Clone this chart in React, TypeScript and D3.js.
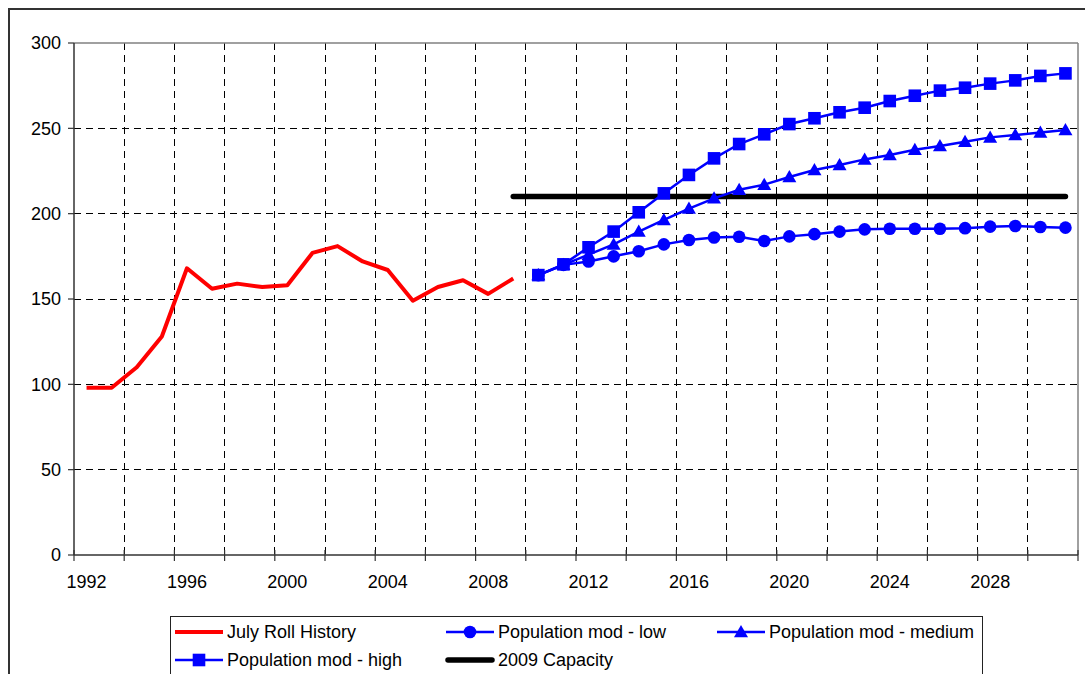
import React from "react";
import * as d3 from "d3";

const categories: number[] = d3.range(1992, 2032);
const histYears: number[] = d3.range(1992, 2010);
const histValues: number[] = [98, 98, 110, 128, 168, 156, 159, 157, 158, 177, 181, 172, 167, 149, 157, 161, 153, 162];
const projYears: number[] = d3.range(2010, 2032);
const lowValues: number[] = [164, 170, 172, 175, 178, 182, 184.6, 186, 186.5, 184, 186.7, 188, 189.5, 190.8, 191.2, 191.2, 191.2, 191.5, 192.4, 192.8, 192.2, 191.8];
const mediumValues: number[] = [164, 170, 176, 182, 189.5, 196.3, 203, 209, 214, 217, 221.5, 225.6, 228.5, 231.8, 234.4, 237.5, 239.6, 242.2, 244.7, 246.1, 247.5, 249];
const highValues: number[] = [164, 170.3, 180.3, 189.5, 200.8, 211.9, 222.7, 232.4, 240.8, 246.5, 252.5, 255.9, 259.4, 262.1, 266, 269.1, 272.1, 273.8, 276.2, 278.1, 280.7, 282.2];
const capacityYears: number[] = d3.range(2009, 2032);
const capacityValue = 210;
const yTicks: number[] = [0, 50, 100, 150, 200, 250, 300];
const xLabelYears: number[] = [1992, 1996, 2000, 2004, 2008, 2012, 2016, 2020, 2024, 2028];
const legendLabels: string[] = ["July Roll History", "Population mod - low", "Population mod - medium", "Population mod - high", "2009 Capacity"];

const FONT = "'Liberation Sans', Arial, sans-serif";
const RED = "#ff0000";
const BLUE = "#0000ff";

const L = 74, R = 1078, T = 43, B = 555;

function Marker({ kind, x, y }: { kind: string; x: number; y: number }) {
  if (kind === "circle") return <circle cx={x} cy={y} r={6.3} fill={BLUE} />;
  if (kind === "square") return <rect x={x - 6.3} y={y - 6.3} width={12.6} height={12.6} fill={BLUE} />;
  const s = 7;
  return <path d={`M${x},${y - s}L${x + s},${y + s * 0.75}L${x - s},${y + s * 0.75}Z`} fill={BLUE} />;
}

export default function App() {
  const x = d3.scaleBand<number>().domain(categories).range([L, R]).padding(0);
  const bw = x.bandwidth();
  const cx = (yr: number) => (x(yr) as number) + bw / 2;
  const y = d3.scaleLinear().domain([0, 300]).range([B, T]);

  const lineGen = (years: number[], vals: number[]) =>
    d3.line<number>().x((_, i) => cx(years[i])).y((v) => y(v))(vals) || "";

  const boundaries = d3.range(0, categories.length + 1, 2).map((k) => L + k * bw);

  const projSeries = [
    { vals: lowValues, kind: "circle" },
    { vals: mediumValues, kind: "triangle" },
    { vals: highValues, kind: "square" },
  ];

  const legendCols = [175, 446, 717];
  const legendRows = [632, 660];
  const legendItems = [
    { label: legendLabels[0], col: 0, row: 0, type: "red" },
    { label: legendLabels[1], col: 1, row: 0, type: "circle" },
    { label: legendLabels[2], col: 2, row: 0, type: "triangle" },
    { label: legendLabels[3], col: 0, row: 1, type: "square" },
    { label: legendLabels[4], col: 1, row: 1, type: "black" },
  ];

  return (
    <div style={{ position: "fixed", left: 0, top: 0, width: 1085, height: 674, background: "#fff" }}>
      <svg width={1085} height={674} style={{ display: "block" }} fontFamily={FONT}>
        <rect x={0} y={0} width={1085} height={674} fill="#fff" />
        <rect x={9} y={9} width={1200} height={800} fill="none" stroke="#333" strokeWidth={2} />

        {/* grid */}
        <g stroke="#000" strokeWidth={1} strokeDasharray="7,5" shapeRendering="crispEdges">
          {yTicks.filter((t) => t > 0 && t < 300).map((t) => (
            <line key={"h" + t} x1={L} x2={R} y1={y(t)} y2={y(t)} />
          ))}
          {boundaries.slice(1, -1).map((bx, i) => (
            <line key={"v" + i} x1={bx} x2={bx} y1={T} y2={B} />
          ))}
        </g>

        {/* plot border top/right */}
        <line x1={L} x2={R} y1={T} y2={T} stroke="#808080" strokeWidth={1.5} />
        <line x1={R} x2={R} y1={T} y2={B} stroke="#808080" strokeWidth={1.5} />

        {/* axes */}
        <line x1={L} x2={L} y1={T} y2={B} stroke="#333" strokeWidth={1.5} />
        <line x1={L} x2={R} y1={B} y2={B} stroke="#333" strokeWidth={1.5} />
        {yTicks.map((t) => (
          <g key={"yt" + t}>
            <line x1={L - 6} x2={L} y1={y(t)} y2={y(t)} stroke="#333" strokeWidth={1.2} />
            <text x={61} y={y(t)} dy="0.36em" textAnchor="end" fontSize={18} fill="#000">{t}</text>
          </g>
        ))}
        {boundaries.map((bx, i) => (
          <line key={"xt" + i} x1={bx} x2={bx} y1={B - 5} y2={B + 6} stroke="#333" strokeWidth={1.2} />
        ))}
        {xLabelYears.map((yr) => (
          <text key={"xl" + yr} x={cx(yr)} y={582} dy="0.36em" textAnchor="middle" fontSize={18} fill="#000">{yr}</text>
        ))}

        {/* capacity */}
        <path d={lineGen(capacityYears, capacityYears.map(() => capacityValue))} stroke="#000" strokeWidth={5.5} strokeLinecap="round" fill="none" />

        {/* history */}
        <path d={lineGen(histYears, histValues)} stroke={RED} strokeWidth={4} fill="none" strokeLinejoin="round" />

        {/* projections */}
        {projSeries.map((s, si) => (
          <path key={"pl" + si} d={lineGen(projYears, s.vals)} stroke={BLUE} strokeWidth={2.5} fill="none" />
        ))}
        {projSeries.map((s, si) => (
          <g key={"pm" + si}>
            {s.vals.map((v, i) => (
              <Marker key={i} kind={s.kind} x={cx(projYears[i])} y={y(v)} />
            ))}
          </g>
        ))}

        {/* legend */}
        <rect x={170.5} y={616.5} width={812} height={80} fill="#fff" stroke="#222" strokeWidth={1} />
        {legendItems.map((it, i) => {
          const x0 = legendCols[it.col];
          const yy = legendRows[it.row];
          const x1 = x0 + 48;
          const mid = (x0 + x1) / 2;
          return (
            <g key={"lg" + i}>
              {it.type === "red" && <line x1={x0} x2={x1} y1={yy} y2={yy} stroke={RED} strokeWidth={4} />}
              {it.type === "black" && <line x1={x0 + 2} x2={x1 - 2} y1={yy} y2={yy} stroke="#000" strokeWidth={5.5} strokeLinecap="round" />}
              {(it.type === "circle" || it.type === "triangle" || it.type === "square") && (
                <g>
                  <line x1={x0} x2={x1} y1={yy} y2={yy} stroke={BLUE} strokeWidth={2.5} />
                  <Marker kind={it.type} x={mid} y={yy} />
                </g>
              )}
              <text x={x1 + 4} y={yy} dy="0.36em" fontSize={18} fill="#000">{it.label}</text>
            </g>
          );
        })}
      </svg>
    </div>
  );
}
